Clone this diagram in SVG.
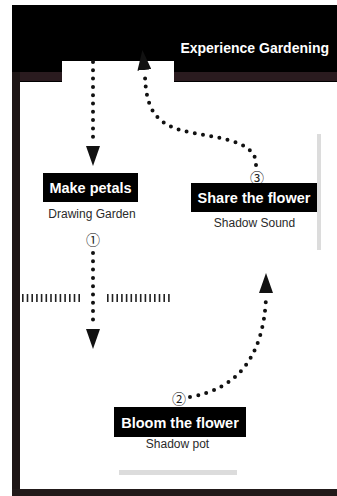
<svg xmlns="http://www.w3.org/2000/svg" width="337" height="496" viewBox="0 0 337 496">
<style>
.lt{font-family:"Liberation Sans",Arial,sans-serif;font-weight:bold;font-size:14.5px;fill:#fff;text-anchor:middle}
.sub{font-family:"Liberation Sans",Arial,sans-serif;font-size:12px;fill:#2a2a2a;text-anchor:middle}
.num{font-family:"Noto Sans CJK JP","DejaVu Sans",sans-serif;font-size:14px;fill:#222;text-anchor:middle}
.dot{fill:none;stroke:#111;stroke-width:4;stroke-linecap:round;stroke-dasharray:0 8.3}
.tick{stroke:#222;stroke-width:8;stroke-dasharray:1.6 3.1}
.bar{fill:#dcdcdc}
</style>
<defs>
<marker id="ah" viewBox="0 0 20 14" refX="0" refY="7" markerWidth="20" markerHeight="14" markerUnits="userSpaceOnUse" orient="auto">
<path d="M0,0 L20,7 L0,14 Z" fill="#111"/>
</marker>
</defs>
<rect width="337" height="496" fill="#fff"/>
<g id="frame">
<path d="M12,5 H337 V82 H174 V61 H62 V82 H12 Z" fill="#000"/>
<rect x="12" y="72" width="50" height="9" fill="#2a1b1f"/>
<rect x="174" y="72" width="163" height="9" fill="#2a1b1f"/>
<rect x="12" y="72" width="8" height="424" fill="#1e1616"/>
<rect x="12" y="489" width="325" height="7" fill="#221a1a"/>
<text x="329" y="53" style="font-family:'Liberation Sans',Arial,sans-serif;font-weight:bold;font-size:14px;fill:#fff;text-anchor:end">Experience Gardening</text>
</g>
<g id="decor">
<line class="tick" x1="22" y1="298" x2="80.5" y2="298"/>
<line class="tick" x1="107" y1="298" x2="172" y2="298"/>
<rect class="bar" x="317" y="134" width="4" height="116"/>
<rect class="bar" x="119" y="470" width="118" height="5"/>
</g>
<g id="connectors">
<path class="dot" d="M93,62 V141"/>
<path d="M93,145 V146" fill="none" stroke="none" marker-end="url(#ah)"/>
<path class="dot" d="M93,253 V326"/>
<path d="M93,328 V329" fill="none" stroke="none" marker-end="url(#ah)"/>
<path class="dot" d="M190,397 Q262,385 266,298"/>
<path d="M266,294 V293" fill="none" stroke="none" marker-end="url(#ah)"/>
<path class="dot" d="M256,165 C257,138 210,138 180,130 C155,122 146,108 145,76"/>
<path d="M144.5,71 L144.4,70" fill="none" stroke="none" marker-end="url(#ah)"/>
</g>
<g id="make-petals">
<rect x="43" y="173" width="95" height="29" fill="#000"/>
<text class="lt" x="90.5" y="193">Make petals</text>
<text class="sub" x="92" y="218">Drawing Garden</text>
<text class="num" x="93" y="245">①</text>
</g>
<g id="share-flower">
<text class="num" x="257" y="183">③</text>
<rect x="191" y="183" width="126" height="29" fill="#000"/>
<text class="lt" x="254" y="203">Share the flower</text>
<text class="sub" x="254.5" y="227">Shadow Sound</text>
</g>
<g id="bloom-flower">
<text class="num" x="179" y="404">②</text>
<rect x="114" y="407" width="132" height="30" fill="#000"/>
<text class="lt" x="180" y="428">Bloom the flower</text>
<text class="sub" x="177.5" y="448">Shadow pot</text>
</g>
</svg>
